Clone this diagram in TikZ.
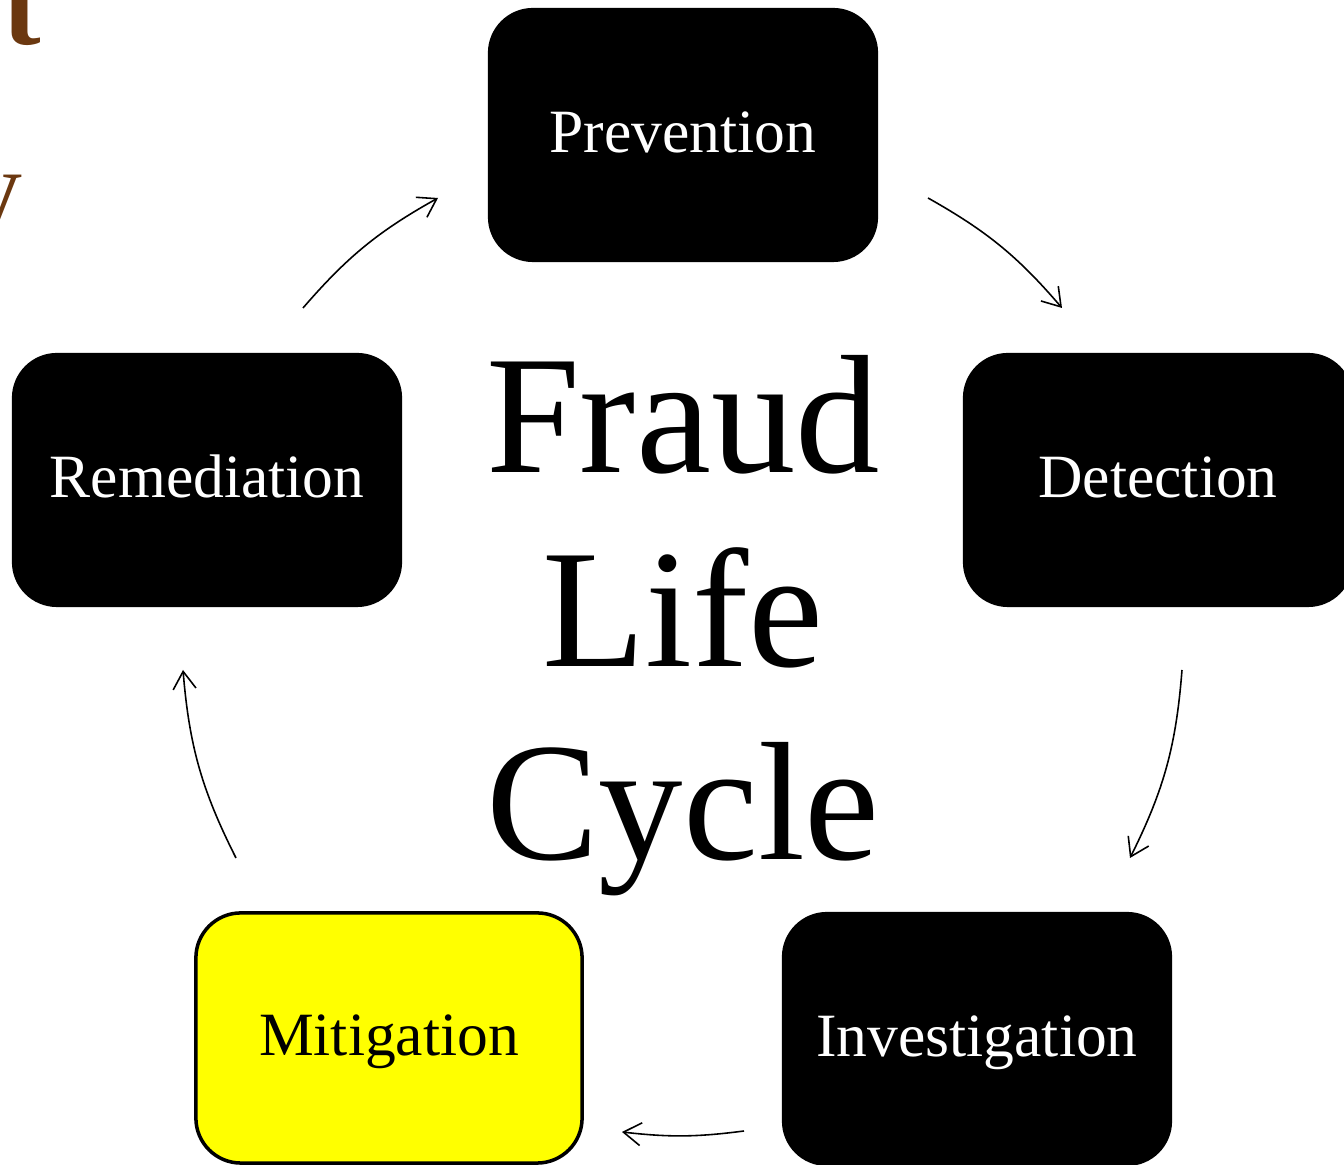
\documentclass[tikz,border=0pt]{standalone}
\usepackage{fontspec}
\setmainfont{Liberation Serif}
\usetikzlibrary{arrows.meta}
\definecolor{titlebrown}{RGB}{107,56,16}
\definecolor{markyellow}{RGB}{255,255,0}
\tikzset{
  phase/.style={rectangle, rounded corners=0.45cm, fill=black, text=white,
    minimum width=3.9cm, minimum height=2.54cm, text height=10.2pt, text depth=0pt,
    font=\fontsize{17.5}{20}\selectfont},
  cyc/.style={-{Straight Barb[length=5pt,width=6.5pt]}, line width=0.45pt}
}
\begin{document}
\begin{tikzpicture}[x=0.01cm, y=-0.01cm]
      \useasboundingbox (0,0) rectangle (1344,1165);

      % cut-off title of the slide
      \node (t1) [anchor=base east, inner sep=0pt, text=titlebrown, font=\bfseries\fontsize{32}{34}\selectfont] at (42,45) {t};
      \node (t2) [anchor=base east, inner sep=0pt, text=titlebrown, font=\fontsize{30}{32}\selectfont] at (23,224) {y};

      \node (0) [phase] at (683,135)  {Prevention};
      \node (1) [phase] at (1158,480) {Detection};
      \node (2) [phase] at (977,1039) {Investigation};
      \node (3) [phase, fill=markyellow, text=black, draw=black, line width=1pt,
                 minimum width=3.86cm, minimum height=2.5cm] at (389,1038) {Mitigation};
      \node (4) [phase] at (207,480)  {Remediation};

      \node (title) [align=center, font=\fontsize{48}{55}\selectfont] at (683,626) {Fraud\\Life\\Cycle};

      \coordinate (a0) at (928,198);  \coordinate (b0) at (1062,308);
      \coordinate (a1) at (1182,670); \coordinate (b1) at (1130,858);
      \coordinate (a2) at (744,1131); \coordinate (b2) at (622,1132);
      \coordinate (a3) at (236,858);  \coordinate (b3) at (183,670);
      \coordinate (a4) at (303,308);  \coordinate (b4) at (438,198);

      \path[cyc]
        (a0) edge [bend left=10] (b0)
        (a1) edge [bend left=11] (b1)
        (a2) edge [bend left=7]  (b2)
        (a3) edge [bend left=11] (b3)
        (a4) edge [bend left=10] (b4);
    \end{tikzpicture}
\end{document}
